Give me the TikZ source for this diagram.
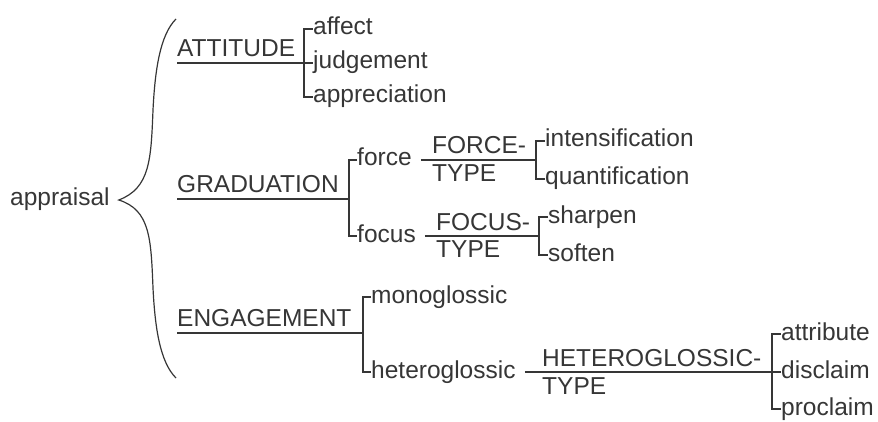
\documentclass[tikz,border=0pt]{standalone}
\usepackage{fontspec}
\setmainfont{Liberation Sans}
\usetikzlibrary{positioning, calc}
\definecolor{Ink}{HTML}{363636}
\tikzset{
    term/.style={inner sep=0pt, text height=12pt, text depth=0pt, anchor=west, text=Ink, font=\fontsize{24.5}{29}\selectfont},
    sysname/.style={inner sep=0pt, text height=17pt, text depth=6pt, anchor=south west, text=Ink, font=\fontsize{24.5}{29}\selectfont},
    typename/.style={inner sep=0pt, anchor=base west, text=Ink, font=\fontsize{24.5}{29}\selectfont},
    wire/.style={draw=Ink, line width=1.5pt},
    bracewire/.style={draw=Ink, line width=1.2pt},
}
\begin{document}
\begin{tikzpicture}[x=1pt, y=-1pt]
    \useasboundingbox (0,0) rectangle (878,422);

    % Radice e parentesi graffa
    \node[term] (appraisal) at (10,200) {appraisal};
    \coordinate (tip) at ([xshift=9pt]appraisal.east);
    \coordinate (bracetop) at (176,19);
    \coordinate (bracebot) at (176,378);
    \draw[bracewire] (bracetop) .. controls (160,35) and (155,70) .. (153,110)
        .. controls (151,160) and (150,188) .. (tip)
        .. controls (150,210) and (151,238) .. (153,288)
        .. controls (155,328) and (160,362) .. (bracebot);

    % ATTITUDE
    \node[sysname] (attitude) at (177,63) {ATTITUDE};
    \coordinate (attj) at (304,63);
    \node[term] (affect) at (313,29) {affect};
    \node[term] (judgement) at (313,63) {judgement};
    \node[term] (appreciation) at (313,97) {appreciation};
    \draw[wire] (attitude.south west) -- (judgement.west);
    \draw[wire] (affect.west) -| (attj) |- (appreciation.west);

    % GRADUATION
    \node[sysname] (graduation) at (177,199) {GRADUATION};
    \coordinate (gradj) at (349,199);
    \node[term] (force) at (357,160) {force};
    \node[term] (focus) at (357,236) {focus};
    \draw[wire] (graduation.south west) -- (gradj);
    \draw[wire] (force.west) -| (gradj) |- (focus.west);

    % FORCE-TYPE
    \coordinate (forcej) at (536,160);
    \node[typename] (forcetop) at (432,154) {FORCE-};
    \node[typename] (forcebot) at (432,182) {TYPE};
    \node[term] (intensification) at (545,141) {intensification};
    \node[term] (quantification) at (545,179) {quantification};
    \draw[wire] ([xshift=9pt]force.east) -- (forcej);
    \draw[wire] (intensification.west) -| (forcej) |- (quantification.west);

    % FOCUS-TYPE
    \coordinate (focusj) at (539,236);
    \node[typename] (focustop) at (436,230) {FOCUS-};
    \node[typename] (focusbot) at (436,258) {TYPE};
    \node[term] (sharpen) at (548,217) {sharpen};
    \node[term] (soften) at (548,255) {soften};
    \draw[wire] ([xshift=9pt]focus.east) -- (focusj);
    \draw[wire] (sharpen.west) -| (focusj) |- (soften.west);

    % ENGAGEMENT
    \node[sysname] (engagement) at (177,333) {ENGAGEMENT};
    \coordinate (engj) at (363,333);
    \node[term] (monoglossic) at (371,297) {monoglossic};
    \node[term] (heteroglossic) at (371,372) {heteroglossic};
    \draw[wire] (engagement.south west) -- (engj);
    \draw[wire] (monoglossic.west) -| (engj) |- (heteroglossic.west);

    % HETEROGLOSSIC-TYPE
    \coordinate (heteroj) at (772,372);
    \node[typename] (heterotop) at (542,366) {HETEROGLOSSIC-};
    \node[typename] (heterobot) at (542,394) {TYPE};
    \node[term] (attribute) at (781,334) {attribute};
    \node[term] (disclaim) at (781,372) {disclaim};
    \node[term] (proclaim) at (781,409) {proclaim};
    \draw[wire] ([xshift=9pt]heteroglossic.east) -- (disclaim.west);
    \draw[wire] (attribute.west) -| (heteroj) |- (proclaim.west);
\end{tikzpicture}
\end{document}
